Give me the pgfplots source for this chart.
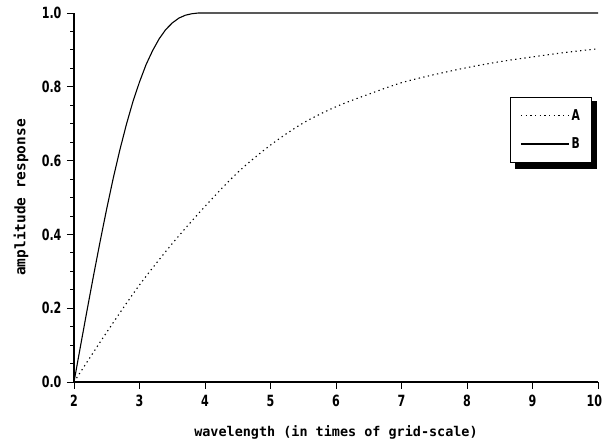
\documentclass[border=0pt]{standalone}
\usepackage{pgfplots}
\pgfplotsset{compat=1.18}
\usepackage{fontspec}
\newfontfamily\labf{DejaVu Sans Mono}
\newfontfamily\tickf[FakeStretch=0.72]{DejaVu Sans}

\pgfplotstableread{
x y
2.0 0.000
2.1 0.098
2.2 0.195
2.3 0.290
2.4 0.382
2.5 0.470
2.6 0.553
2.7 0.629
2.8 0.698
2.9 0.760
3.0 0.813
3.1 0.860
3.2 0.898
3.3 0.930
3.4 0.955
3.5 0.973
3.6 0.986
3.7 0.994
3.8 0.998
3.9 1.000
10.0 1.000
}\dataB

\pgfplotstableread{
x y
2.0 0.000
2.5 0.135
3.0 0.263
3.5 0.375
4.0 0.476
4.5 0.568
5.0 0.642
5.5 0.702
6.0 0.746
6.5 0.780
7.0 0.811
7.5 0.833
8.0 0.852
8.5 0.868
9.0 0.881
9.5 0.893
10.0 0.903
}\dataA

\begin{document}
\begin{tikzpicture}
\useasboundingbox (0,0) rectangle (604bp,445bp);
\begin{axis}[
  at={(74bp,63bp)}, anchor=origin,
  scale only axis, width=524bp, height=369bp,
  xmin=2, xmax=10, ymin=0, ymax=1,
  axis lines=left,
  axis line style={-, line width=1.1pt},
  xtick={2,3,...,10},
  xticklabels={2,3,4,5,6,7,8,9,\makebox[14bp][r]{10\hspace*{3bp}}},
  ytick={0,0.2,...,1.0},
  minor y tick num=3,
  tick align=outside,
  major tick length=7bp, minor tick length=3.5bp,
  every tick/.style={black, line width=0.9pt},
  tick label style={font=\tickf\bfseries\fontsize{15.5}{16}\selectfont},
  xticklabel style={yshift=-3bp},
  yticklabel style={xshift=-2bp, /pgf/number format/.cd, fixed, fixed zerofill, precision=1},
  /pgf/number format/assume math mode=true,
  xlabel={wavelength (in times of grid-scale)},
  ylabel={amplitude response},
  xlabel style={at={(axis description cs:0.5,-0.149)}, anchor=base, font=\labf\bfseries\fontsize{13.5}{14}\selectfont},
  ylabel style={at={(axis description cs:-0.101,0.5)}, anchor=center, font=\labf\bfseries\fontsize{14.5}{15}\selectfont},
  clip=false,
  legend style={at={(axis cs:8.656,0.7724)}, anchor=north west, draw=black, line width=0.9pt, fill=white,
    inner xsep=10bp, inner ysep=10bp, row sep=12bp,
    font=\tickf\bfseries\fontsize{15}{16}\selectfont},
  legend cell align=left,
  legend image code/.code={\draw[#1] (0bp,0bp) -- (48bp,0bp);},
]
\fill[black] (axis cs:8.733,0.7615) rectangle (axis cs:9.985,0.577);
\addplot[black, line width=1.1pt, dash pattern=on 1.3pt off 3.4pt, smooth, tension=0.5] table {\dataA};
\addlegendentry{A}
\addplot[black, line width=1.1pt] table {\dataB};
\addlegendentry{B}
\end{axis}
\end{tikzpicture}
\end{document}
